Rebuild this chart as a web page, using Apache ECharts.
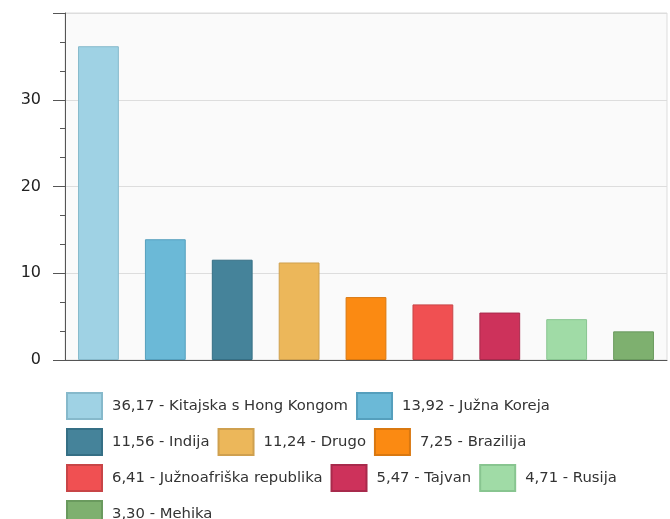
<!DOCTYPE html>
<html>
<head>
<meta charset="utf-8">
<script src="https://cdn.jsdelivr.net/npm/echarts@6/dist/echarts.min.js"></script>
<style>
  html, body { margin: 0; padding: 0; background: #ffffff; }
  #chart { width: 670px; height: 519px; }
</style>
</head>
<body>
<div id="chart"></div>
<script>
const categories = ['Kitajska s Hong Kongom', 'Južna Koreja', 'Indija', 'Drugo', 'Brazilija', 'Južnoafriška republika', 'Tajvan', 'Rusija', 'Mehika'];
const values = [36.17, 13.92, 11.56, 11.24, 7.25, 6.41, 5.47, 4.71, 3.30];
const yTicks = [0, 10, 20, 30, 40];

const fills = ['#9fd2e4', '#6bb9d7', '#45839a', '#ecb75a', '#fb8a12', '#f05052', '#cd325b', '#a0dba6', '#7eb06f'];
const borders = ['#86b9cb', '#559fbd', '#356f85', '#cfa04f', '#d97810', '#c84547', '#a82a4c', '#88c590', '#6a9a5e'];

const fmt = v => v.toFixed(2).replace('.', ',');
const names = categories.map((c, i) => fmt(values[i]) + ' - ' + c);

const series = categories.map((c, i) => ({
  name: names[i],
  type: 'bar',
  stack: 'all',
  barWidth: '61%',
  data: categories.map((_, j) => (j === i ? values[i] : '-')),
  itemStyle: { color: fills[i], borderColor: borders[i], borderWidth: 1 },
  emphasis: { disabled: true }
}));

const chart = echarts.init(document.getElementById('chart'), null, { renderer: 'canvas' });
chart.setOption({
  animation: false,
  grid: {
    left: 65, top: 13, right: 3, bottom: 159,
    show: true, backgroundColor: '#fafafa', borderColor: '#dddddd', borderWidth: 1
  },
  xAxis: {
    type: 'category',
    data: categories,
    axisLine: { lineStyle: { color: '#555555', width: 1 } },
    axisTick: { show: false },
    axisLabel: { show: false }
  },
  yAxis: {
    type: 'value',
    min: yTicks[0],
    max: yTicks[yTicks.length - 1],
    interval: 10,
    axisLine: { show: true, lineStyle: { color: '#555555', width: 1 } },
    axisTick: { show: true, inside: false, length: 12, lineStyle: { color: '#555555' } },
    minorTick: { show: true, splitNumber: 3, length: 5, lineStyle: { color: '#555555' } },
    splitLine: { show: true, lineStyle: { color: '#dddddd', width: 1 } },
    axisLabel: {
      margin: 24,
      color: '#222222',
      fontFamily: 'DejaVu Sans',
      fontSize: 16,
      showMaxLabel: false,
      formatter: v => (v === yTicks[yTicks.length - 1] ? '' : String(v))
    }
  },
  legend: {
    left: 66,
    top: 392,
    width: 600,
    padding: 0,
    orient: 'horizontal',
    itemWidth: 35,
    itemHeight: 26,
    itemGap: 8,
    icon: 'rect',
    selectedMode: false,
    textStyle: {
      color: '#333333',
      fontFamily: 'DejaVu Sans',
      fontSize: 14.8,
      padding: [0, 5, 0, 5]
    },
    data: names
  },
  series: series
});
</script>
</body>
</html>
